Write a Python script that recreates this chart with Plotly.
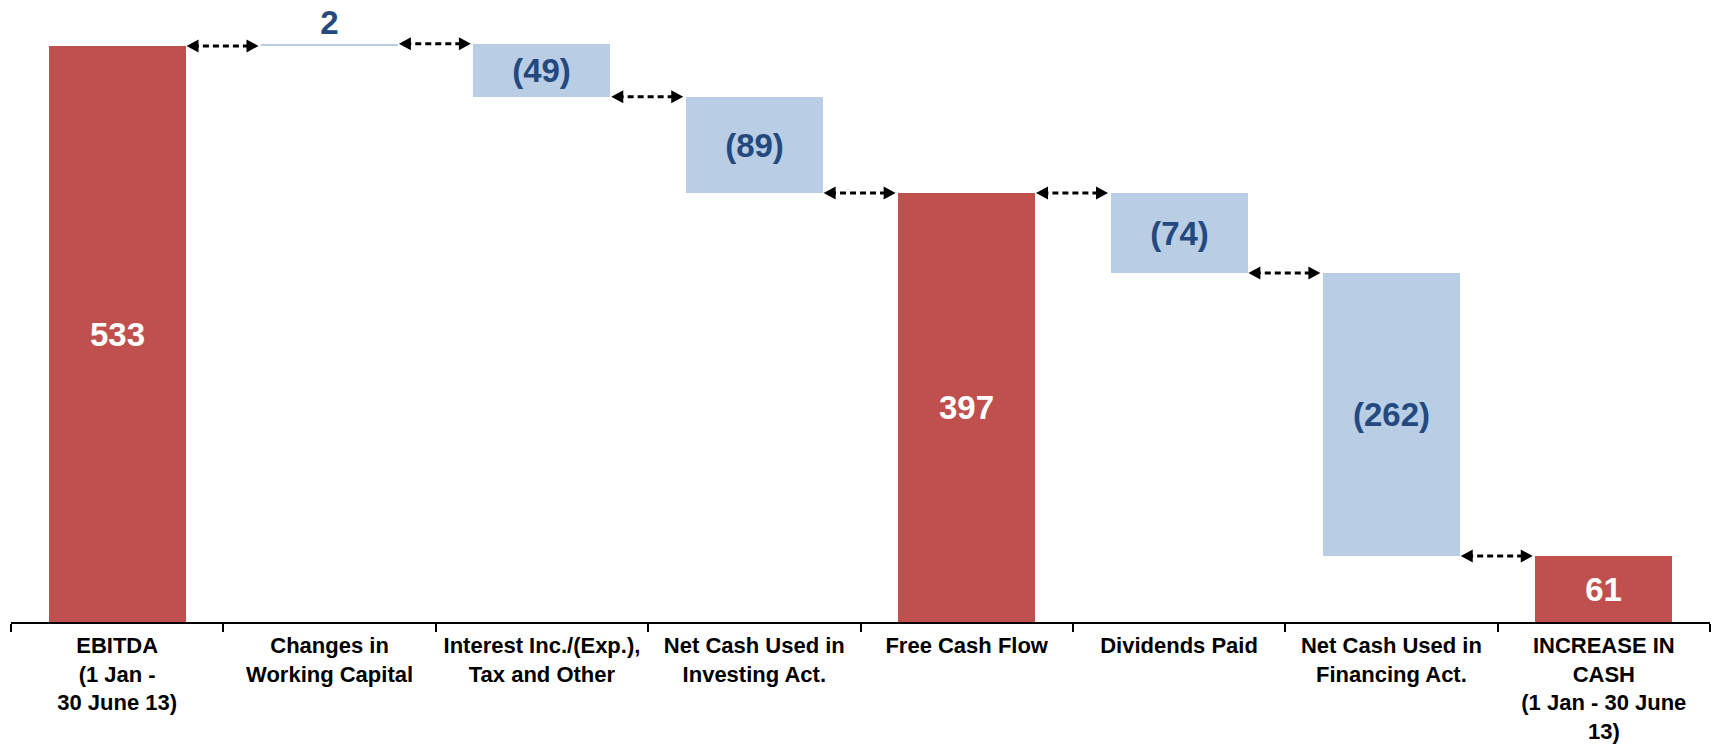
import plotly.graph_objects as go

# Cash flow bridge, 1 Jan - 30 June 13
categories = [
    "EBITDA<br>(1 Jan -<br>30 June 13)",
    "Changes in<br>Working Capital",
    "Interest Inc./(Exp.),<br>Tax and Other",
    "Net Cash Used in<br>Investing Act.",
    "Free Cash Flow",
    "Dividends Paid",
    "Net Cash Used in<br>Financing Act.",
    "INCREASE IN<br>CASH<br>(1 Jan - 30 June<br>13)",
]
values = [533, 2, -49, -89, 397, -74, -262, 61]
is_total = [True, False, False, False, True, False, False, True]

RED = "#C0504D"
LIGHT_BLUE = "#B9CDE5"
DARK_BLUE = "#23497F"
BAR_WIDTH = 0.645

# floating-bar geometry from the running total
bases, heights, levels = [], [], []
running = 0
for v, tot in zip(values, is_total):
    if tot:
        bases.append(0)
        heights.append(v)
        running = v
    else:
        start, end = running, running + v
        bases.append(min(start, end))
        heights.append(abs(v))
        running = end
    levels.append(running)

texts = [str(v) if (t or v >= 0) else f"({abs(v)})" for v, t in zip(values, is_total)]
colors = [RED if t else LIGHT_BLUE for t in is_total]
text_colors = ["white" if t else DARK_BLUE for t in is_total]
text_pos = ["outside" if (not t and h < 10) else "inside" for t, h in zip(is_total, heights)]

fig = go.Figure(
    go.Bar(
        x=categories,
        y=heights,
        base=bases,
        width=BAR_WIDTH,
        marker=dict(color=colors, line=dict(width=0)),
        text=texts,
        textposition=text_pos,
        insidetextanchor="middle",
        textangle=0,
        constraintext="none",
        textfont=dict(family="Arial, Liberation Sans", size=33, color=text_colors, weight="bold"),
        cliponaxis=False,
        hoverinfo="skip",
    )
)

# dashed double-headed connectors between neighbouring bars
shapes = []
half = BAR_WIDTH / 2
for i in range(len(values) - 1):
    lvl = levels[i]
    x_left = i + half + 0.004
    x_right = i + 1 - half - 0.012
    shapes.append(dict(
        type="line", xref="x", yref="y",
        x0=x_left + 0.03, x1=x_right - 0.03, y0=lvl, y1=lvl,
        line=dict(color="black", width=3, dash="6px,4px"),
    ))
    shapes.append(dict(
        type="path", xref="x", yref="y", xsizemode="pixel", ysizemode="pixel",
        xanchor=x_left, yanchor=lvl,
        path="M0,0 L12,6.5 L12,-6.5 Z",
        fillcolor="black", line=dict(width=0),
    ))
    shapes.append(dict(
        type="path", xref="x", yref="y", xsizemode="pixel", ysizemode="pixel",
        xanchor=x_right, yanchor=lvl,
        path="M0,0 L-12,6.5 L-12,-6.5 Z",
        fillcolor="black", line=dict(width=0),
    ))

fig.update_layout(
    width=1715,
    height=747,
    margin=dict(l=11, r=5, t=0, b=125, autoexpand=False),
    paper_bgcolor="white",
    plot_bgcolor="white",
    showlegend=False,
    shapes=shapes,
    bargap=0,
    xaxis=dict(
        type="category",
        range=[-0.5, 7.5],
        tickson="boundaries",
        ticks="outside",
        ticklen=8,
        tickwidth=1.5,
        tickcolor="black",
        tickangle=0,
        automargin=False,
        ticklabelstandoff=3,
        showline=True,
        linecolor="black",
        linewidth=1.5,
        showgrid=False,
        tickfont=dict(family="Arial, Liberation Sans", size=22, color="black", weight="bold"),
        fixedrange=True,
    ),
    yaxis=dict(
        range=[0, 575.5],
        visible=False,
        showgrid=False,
        zeroline=False,
        fixedrange=True,
    ),
)

fig.write_html("out.html")
